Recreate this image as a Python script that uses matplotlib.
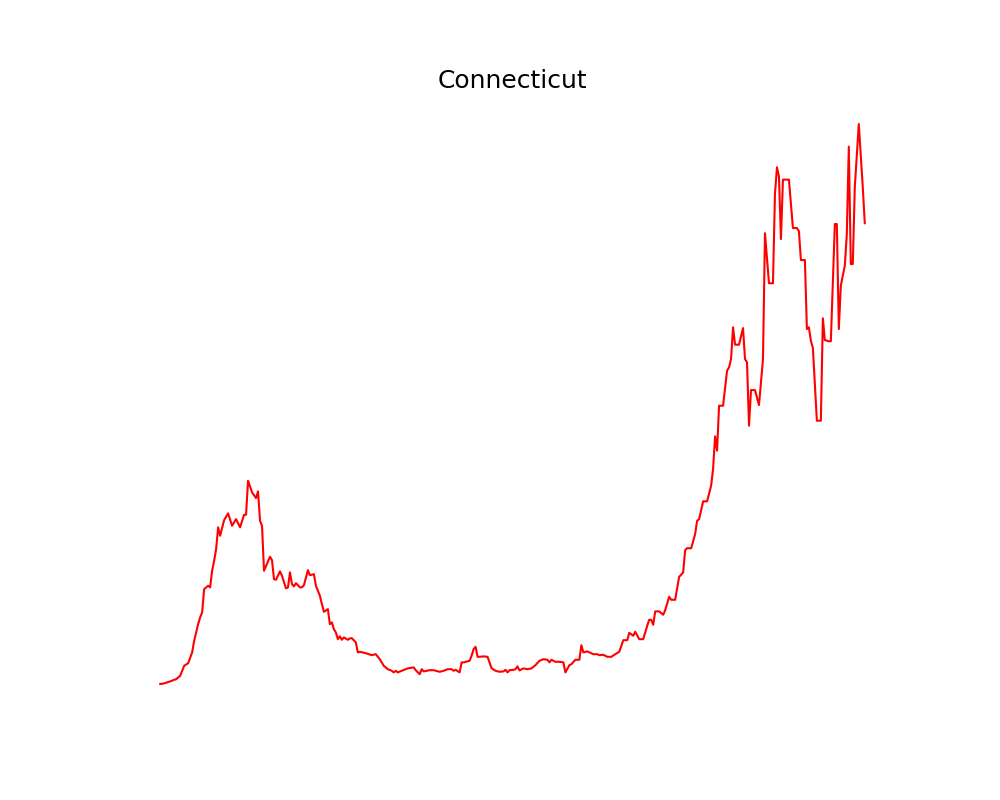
import matplotlib
matplotlib.use("Agg")
import matplotlib.pyplot as plt

# Days since start of series and daily new cases
days = [0, 2, 5, 7, 8, 10, 12, 14, 16, 17, 19, 20, 21, 22, 24, 25, 26, 27, 28, 29,
        30, 32, 34, 36, 38, 40, 42, 43, 44, 46, 48, 49, 50, 51, 52, 55, 56, 57, 58, 60,
        61, 63, 64, 65, 66, 67, 68, 70, 71, 72, 74, 75, 77, 78, 80, 81, 82, 84, 85, 86,
        87, 88, 89, 90, 91, 92, 94, 95, 96, 98, 99, 100, 103, 106, 108, 110, 112, 114, 116, 117,
        118, 119, 121, 124, 127, 128, 130, 131, 132, 135, 137, 140, 142, 144, 146, 147, 148, 150, 151, 152,
        155, 156, 157, 158, 159, 160, 162, 164, 165, 166, 168, 170, 172, 173, 174, 175, 177, 178, 179, 180,
        182, 184, 186, 188, 190, 192, 194, 195, 196, 198, 200, 202, 203, 205, 206, 208, 210, 211, 212, 214,
        216, 217, 219, 220, 222, 224, 226, 228, 230, 232, 234, 235, 237, 238, 240, 242, 244, 245, 246, 247,
        248, 250, 252, 253, 255, 256, 258, 260, 261, 262, 263, 264, 266, 268, 269, 270, 272, 274, 276, 277,
        278, 279, 280, 282, 284, 285, 286, 287, 288, 290, 292, 293, 294, 295, 296, 298, 300, 302, 303, 305,
        307, 308, 309, 310, 311, 312, 315, 317, 319, 320, 321, 323, 324, 325, 326, 327, 329, 331, 332, 333,
        335, 336, 338, 339, 340, 341, 343, 344, 345, 346, 347, 348, 350, 352, 353]

cases = [4, 7, 17, 25, 28, 45, 95, 108, 162, 220, 303, 337, 362, 478, 495, 487, 570, 620, 678, 787,
         745, 823, 857, 795, 828, 787, 850, 850, 1020, 962, 933, 967, 820, 795, 570, 640, 623, 528, 525, 567,
         545, 482, 487, 562, 503, 492, 508, 487, 487, 498, 573, 548, 553, 495, 445, 403, 365, 378, 303, 312,
         278, 262, 228, 242, 225, 237, 225, 232, 233, 212, 162, 165, 158, 148, 153, 128, 95, 78, 70, 62,
         70, 62, 70, 82, 87, 73, 53, 78, 67, 73, 73, 65, 70, 78, 78, 70, 75, 62, 112, 112,
         120, 145, 178, 190, 140, 140, 142, 140, 112, 83, 70, 65, 67, 75, 62, 73, 75, 78, 92, 72,
         82, 78, 82, 98, 120, 128, 125, 112, 125, 115, 115, 112, 62, 98, 103, 125, 125, 198, 162, 167,
         158, 153, 153, 148, 150, 140, 140, 153, 165, 223, 223, 260, 245, 265, 228, 228, 295, 325, 325, 300,
         367, 367, 350, 373, 440, 425, 425, 540, 550, 562, 673, 683, 682, 753, 820, 828, 917, 917, 995, 1078,
         1242, 1170, 1395, 1395, 1570, 1587, 1628, 1787, 1700, 1700, 1783, 1628, 1612, 1295, 1473, 1473, 1398, 1628, 2257, 2007,
         2007, 2453, 2587, 2540, 2228, 2525, 2525, 2283, 2283, 2267, 2123, 2123, 1778, 1787, 1720, 1683, 1320, 1320, 1832, 1723,
         1717, 1717, 2303, 2303, 1778, 1995, 2095, 2253, 2690, 2103, 2103, 2487, 2803, 2487, 2307]

fig, ax = plt.subplots(figsize=(10, 8), dpi=100)
ax.plot(days, cases, color="red")
ax.set_title("Connecticut", fontsize=18)
ax.axis("off")

plt.savefig("out.png")
